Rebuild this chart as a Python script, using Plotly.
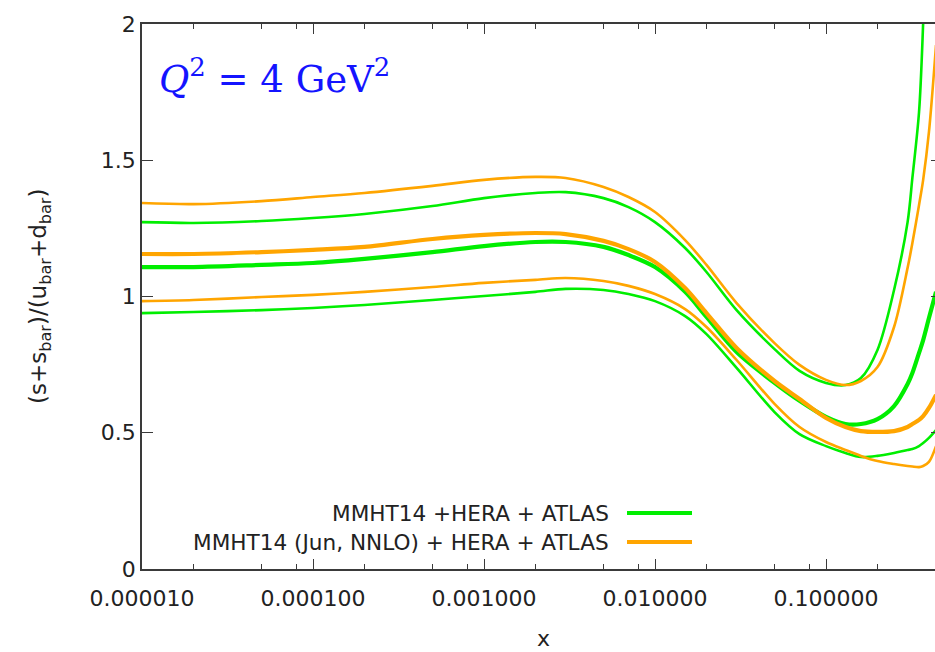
import plotly.graph_objects as go

# Momentum fraction grid
x_vals = [1e-5, 2e-5, 5e-5, 1e-4, 2e-4, 5e-4, 1e-3, 2e-3, 3e-3, 5e-3, 7e-3, 1e-2,
          1.5e-2, 2e-2, 3e-2, 5e-2, 7e-2, 0.1, 0.13, 0.16, 0.2, 0.25, 0.3, 0.32, 0.35,
          0.37, 0.4, 0.44]

# MMHT14 + HERA + ATLAS: upper band, central, lower band
green_upper = [1.273, 1.270, 1.277, 1.288, 1.303, 1.332, 1.361, 1.380, 1.383, 1.361, 1.328, 1.273,
               1.178, 1.090, 0.950, 0.807, 0.727, 0.683, 0.675, 0.701, 0.804, 1.024, 1.273, 1.435,
               1.677, 2.004, 2.675, 3.740]
green_central = [1.108, 1.108, 1.116, 1.123, 1.138, 1.163, 1.185, 1.200, 1.200, 1.182, 1.152, 1.108,
                 1.017, 0.925, 0.796, 0.683, 0.617, 0.558, 0.532, 0.532, 0.550, 0.598, 0.679, 0.719,
                 0.793, 0.840, 0.921, 1.017]
green_lower = [0.939, 0.943, 0.950, 0.958, 0.969, 0.987, 1.002, 1.017, 1.028, 1.024, 1.009, 0.983,
               0.928, 0.862, 0.738, 0.576, 0.495, 0.451, 0.426, 0.411, 0.415, 0.426, 0.437, 0.440,
               0.451, 0.462, 0.481, 0.510]

# MMHT14 (Jun, NNLO) + HERA + ATLAS: upper band, central, lower band
orange_upper = [1.343, 1.339, 1.350, 1.365, 1.380, 1.406, 1.428, 1.439, 1.435, 1.402, 1.365, 1.310,
                1.207, 1.116, 0.976, 0.829, 0.749, 0.694, 0.675, 0.690, 0.741, 0.888, 1.105, 1.196,
                1.336, 1.428, 1.604, 1.923]
orange_central = [1.156, 1.156, 1.163, 1.171, 1.182, 1.211, 1.226, 1.233, 1.229, 1.204, 1.174, 1.127,
                  1.031, 0.939, 0.811, 0.690, 0.624, 0.554, 0.521, 0.506, 0.503, 0.506, 0.521, 0.532,
                  0.547, 0.561, 0.591, 0.639]
orange_lower = [0.983, 0.987, 0.998, 1.006, 1.017, 1.035, 1.050, 1.061, 1.068, 1.057, 1.039, 1.009,
                0.954, 0.888, 0.767, 0.606, 0.521, 0.466, 0.437, 0.415, 0.396, 0.385, 0.378, 0.376,
                0.374, 0.378, 0.393, 0.451]

x_tick_vals = [1e-5, 1e-4, 1e-3, 1e-2, 1e-1]
x_tick_text = ["0.000010", "0.000100", "0.001000", "0.010000", "0.100000"]
x_minor_vals = [m * d for d in [1e-5, 1e-4, 1e-3, 1e-2, 1e-1] for m in (2, 5, 8)]
y_tick_vals = [0, 0.5, 1, 1.5, 2]
y_tick_text = ["0", "0.5", "1", "1.5", "2"]

legend_labels = ["MMHT14 +HERA + ATLAS", "MMHT14 (Jun, NNLO) + HERA + ATLAS"]

GREEN = "#00ee00"
ORANGE = "#ffa500"
AXIS = "#3a3a3a"
TXT = "#222222"
FONT = "DejaVu Sans"

fig = go.Figure()

for ys, w in [(green_upper, 2.6), (green_lower, 2.6), (green_central, 4.2)]:
    fig.add_trace(go.Scatter(x=x_vals, y=ys, mode="lines",
                             line=dict(color=GREEN, width=w, shape="spline", smoothing=0.9),
                             showlegend=False, hoverinfo="skip"))
for ys, w in [(orange_upper, 2.6), (orange_lower, 2.6), (orange_central, 4.2)]:
    fig.add_trace(go.Scatter(x=x_vals, y=ys, mode="lines",
                             line=dict(color=ORANGE, width=w, shape="spline", smoothing=0.9),
                             showlegend=False, hoverinfo="skip"))

# right-hand y ticks (no visible right border)
fig.add_trace(go.Scatter(x=[x_vals[0]], y=[0], yaxis="y2", mode="markers",
                         marker=dict(opacity=0), showlegend=False, hoverinfo="skip"))

W, H = 935, 652
L, R, T, B = 142, 0, 24, 83
PW, PH = W - L - R, H - T - B

def px(xp):
    return (xp - L) / PW

def py(yp):
    return (H - B - yp) / PH

fig.update_layout(
    width=W, height=H,
    margin=dict(l=L, r=R, t=T, b=B),
    paper_bgcolor="white", plot_bgcolor="white",
    showlegend=False,
    xaxis=dict(
        type="log", range=[-5, -5 + PW / 171.0],
        tickmode="array", tickvals=x_tick_vals, ticktext=x_tick_text,
        ticks="inside", ticklen=10, tickwidth=1.3, tickcolor=AXIS,
        ticklabelstandoff=9,
        minor=dict(tickmode="array", tickvals=x_minor_vals, ticks="inside",
                   ticklen=5, tickwidth=1.2, tickcolor=AXIS, showgrid=False),
        showline=True, linecolor=AXIS, linewidth=1.5, mirror="ticks",
        showgrid=False, zeroline=False,
        tickfont=dict(family=FONT, size=22, color=TXT),
    ),
    yaxis=dict(
        range=[0, 2], tickmode="array", tickvals=y_tick_vals, ticktext=y_tick_text,
        ticks="inside", ticklen=11, tickwidth=1.3, tickcolor=AXIS,
        showline=True, linecolor=AXIS, linewidth=1.5, mirror=False,
        showgrid=False, zeroline=False,
        tickfont=dict(family=FONT, size=22, color=TXT),
    ),
    yaxis2=dict(
        overlaying="y", side="right", range=[0, 2], tickmode="array",
        tickvals=y_tick_vals, ticks="inside", ticklen=4, tickwidth=1.3, tickcolor=AXIS,
        showticklabels=False, showline=False, showgrid=False, zeroline=False,
    ),
)

annotations = [
    dict(text="<i>Q</i><sup>2</sup> = 4 GeV<sup>2</sup>", x=px(157), y=py(76),
         xref="paper", yref="paper", xanchor="left", yanchor="middle", showarrow=False,
         font=dict(family="DejaVu Serif", size=37, color="#1414ff")),
    dict(text="(s+s<sub>bar</sub>)/(u<sub>bar</sub>+d<sub>bar</sub>)", x=px(40), y=py(297),
         xref="paper", yref="paper", xanchor="center", yanchor="middle", textangle=-90,
         showarrow=False, font=dict(family=FONT, size=23, color=TXT)),
    dict(text="x", x=px(543), y=py(638), xref="paper", yref="paper",
         xanchor="center", yanchor="middle", showarrow=False,
         font=dict(family=FONT, size=22, color=TXT)),
]

legend_rows = [(legend_labels[0], GREEN, 513), (legend_labels[1], ORANGE, 542)]
shapes = []
for label, color, yrow in legend_rows:
    annotations.append(dict(text=label, x=px(611), y=py(yrow), xref="paper", yref="paper",
                            xanchor="right", yanchor="middle", showarrow=False,
                            font=dict(family=FONT, size=21.6, color=TXT)))
    shapes.append(dict(type="line", xref="paper", yref="paper",
                       x0=px(627), x1=px(692), y0=py(yrow), y1=py(yrow),
                       line=dict(color=color, width=4)))

fig.update_layout(annotations=annotations, shapes=shapes)

fig.write_html("out.html")
